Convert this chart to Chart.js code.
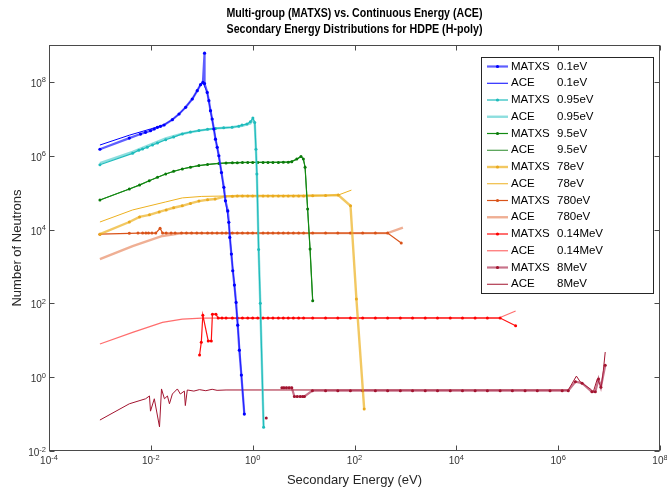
<!DOCTYPE html>
<html><head><meta charset="utf-8">
<script src="https://cdn.jsdelivr.net/npm/chart.js@4.4.1/dist/chart.umd.min.js"></script>
<style>html,body{margin:0;padding:0;background:#fff}#wrap{width:667px;height:489px}</style>
</head><body><div id="wrap"><canvas id="c" width="667" height="489"></canvas></div>
<script>
// ---------- title, tick values and labels ----------
const titleLines = ['Multi-group (MATXS) vs. Continuous Energy (ACE)', 'Secondary Energy Distributions for HDPE (H-poly)'];
const xTickValues = [1e-4, 1e-2, 1, 1e2, 1e4, 1e6, 1e8];
const xTickExponents = ['-4', '-2', '0', '2', '4', '6', '8'];
const yTickValues = [1e-2, 1, 1e2, 1e4, 1e6, 1e8];
const yTickExponents = ['-2', '0', '2', '4', '6', '8'];

// ---------- series names ----------
const seriesCodes = ['MATXS','ACE','MATXS','ACE','MATXS','ACE','MATXS','ACE','MATXS','ACE','MATXS','ACE','MATXS','ACE'];
const seriesEnergies = ['0.1eV','0.1eV','0.95eV','0.95eV','9.5eV','9.5eV','78eV','78eV','780eV','780eV','0.14MeV','0.14MeV','8MeV','8MeV'];

// ---------- data: [secondary energy (eV), number of neutrons] ----------
const matxs_0_1eV = [[1e-3,1.5e6],[3.78e-3,3.0e6],[6.28e-3,3.87e6],[7.87e-3,4.3e6],[9.85e-3,4.77e6],[0.01164,5.3e6],[0.0135,5.9e6],[0.0155,6.27e6],[0.0182,6.8e6],[0.0265,9.5e6],[0.0358,1.35e7],[0.0482,2.05e7],[0.0651,3.44e7],[0.0816,5.8e7],[0.0947,8.4e7],[0.1054,9.7e7],[0.1135,6.0e8],[0.1135,9.0e7],[0.128,5.2e7],[0.138,3.1e7],[0.1485,1.66e7],[0.160,9.9e6],[0.173,5.3e6],[0.186,2.8e6],[0.201,1.69e6],[0.217,1.0e6],[0.244,3.5e5],[0.272,1.39e5],[0.292,6.0e4],[0.325,3.2e4],[0.34,1.57e4],[0.356,6.1e3],[0.382,2.17e3],[0.407,766],[0.438,313],[0.472,106],[0.509,25.7],[0.548,5.4],[0.6,1.14],[0.686,0.1]];
const ace_0_1eV = [[1e-3,1.95e6],[3.78e-3,3.6e6],[9.85e-3,5.3e6],[0.0182,6.9e6],[0.0265,9.5e6],[0.0358,1.35e7],[0.0482,2.05e7],[0.0651,3.44e7],[0.0816,5.8e7],[0.0947,8.4e7],[0.1054,9.7e7],[0.128,5.2e7],[0.1485,1.66e7],[0.173,5.3e6],[0.201,1.69e6],[0.244,3.5e5],[0.292,6.0e4],[0.34,1.57e4],[0.382,2.17e3],[0.438,313],[0.509,25.7],[0.6,1.14],[0.686,0.1]];
const matxs_0_95eV = [[1e-3,5.7e5],[4.39e-3,1.16e6],[5.8e-3,1.4e6],[6.87e-3,1.51e6],[8.5e-3,1.7e6],[0.01077,1.95e6],[0.0135,2.2e6],[0.0196,2.7e6],[0.028,3.2e6],[0.0415,3.9e6],[0.06,4.4e6],[0.088,4.8e6],[0.13,5.2e6],[0.186,5.5e6],[0.27,5.7e6],[0.394,5.9e6],[0.533,6.3e6],[0.618,6.8e6],[0.774,7.2e6],[0.9,8.3e6],[1.01,1.05e7],[1.1,8.0e6],[1.16,1.5e6],[1.21,3.2e5],[1.31,2.9e3],[1.41,100],[1.64,0.044]];
const ace_0_95eV = [[1e-3,6.3e5],[4.39e-3,1.28e6],[0.0196,2.95e6],[0.0415,3.95e6],[0.088,4.8e6],[0.186,5.5e6],[0.394,5.9e6],[0.618,6.5e6],[0.9,7.5e6],[1.01,9.5e6],[1.1,7.5e6],[1.16,1.5e6],[1.21,3.2e5],[1.31,2.9e3],[1.41,100],[1.64,0.044]];
const matxs_9_5eV = [[1e-3,6.3e4],[3.78e-3,1.25e5],[6e-3,1.6e5],[9.3e-3,2.1e5],[0.0135,2.6e5],[0.0196,3.2e5],[0.028,3.8e5],[0.0415,4.37e5],[0.06,4.9e5],[0.088,5.4e5],[0.13,5.8e5],[0.217,6.2e5],[0.3,6.4e5],[0.4,6.5e5],[0.5,6.5e5],[0.63,6.6e5],[0.8,6.6e5],[1.0,6.6e5],[1.26,6.6e5],[1.6,6.6e5],[2.0,6.6e5],[2.5,6.6e5],[3.2,6.6e5],[4.0,6.7e5],[5.0,6.7e5],[5.86,6.9e5],[7.35,8.1e5],[8.9,9.6e5],[9.9,8.1e5],[10.7,4.9e5],[12.0,3.6e4],[13.4,2.95e3],[15.1,117]];
const ace_9_5eV = [[1e-3,6.3e4],[3.78e-3,1.25e5],[0.0196,3.2e5],[0.0415,4.4e5],[0.088,5.4e5],[0.217,6.2e5],[1.0,6.6e5],[5.0,6.7e5],[7.35,8.0e5],[8.9,9.4e5],[9.9,8.0e5],[10.7,4.9e5],[12.0,3.6e4],[13.4,2.95e3],[15.1,117]];
const matxs_78eV = [[1e-3,7.5e3],[3.78e-3,1.6e4],[6e-3,2.2e4],[9.4e-3,2.5e4],[0.0146,3.0e4],[0.02,3.4e4],[0.028,3.9e4],[0.0415,4.4e4],[0.06,5.1e4],[0.088,5.9e4],[0.13,6.4e4],[0.183,6.7e4],[0.29,7.9e4],[0.4,8.0e4],[0.5,8.1e4],[0.63,8.1e4],[0.8,8.1e4],[1.0,8.1e4],[1.26,8.1e4],[1.6,8.1e4],[2.0,8.1e4],[2.5,8.1e4],[3.2,8.1e4],[4.0,8.1e4],[5.0,8.1e4],[6.3,8.1e4],[8.0,8.1e4],[10,8.1e4],[15.1,8.2e4],[27,8.3e4],[48,8.6e4],[83.5,4.4e4],[109,131],[155,0.137]];
const ace_78eV = [[1e-3,1.6e4],[4.4e-3,3.4e4],[0.0196,5.6e4],[0.0415,7.2e4],[0.1,7.9e4],[0.29,8.1e4],[48,8.6e4],[87,1.17e5]];
const matxs_780eV = [[1e-3,7.5e3],[3.78e-3,7.9e3],[5.6e-3,8.0e3],[6.9e-3,8.0e3],[8.0e-3,8.0e3],[9.0e-3,8.0e3],[0.0105,8.0e3],[0.0125,8.0e3],[0.0152,1.08e4],[0.017,8.0e3],[0.02,8.0e3],[0.025,8.0e3],[0.03,8.0e3],[0.04,8.0e3],[0.05,8.0e3],[0.063,8.0e3],[0.08,8.0e3],[0.1,8.0e3],[0.13,8.0e3],[0.16,8.0e3],[0.2,8.0e3],[0.25,8.0e3],[0.3,8.0e3],[0.4,8e3],[0.5,8e3],[0.63,8e3],[0.8,8e3],[1,8e3],[1.26,8e3],[1.6,8e3],[2,8e3],[2.5,8e3],[3.2,8e3],[4,8e3],[5,8e3],[6.3,8e3],[8,8e3],[10,8e3],[15.1,8e3],[27,8e3],[47,8e3],[83,8e3],[145,8e3],[257,8e3],[447,8e3],[828,4.3e3]];
const ace_780eV = [[1e-3,1.58e3],[4.39e-3,3.57e3],[0.0169,6.7e3],[0.0415,8.0e3],[447,8.0e3],[893,1.12e4]];
const matxs_0_14MeV = [[0.0906,4.0],[0.098,8.9],[0.105,48],[0.134,9.6],[0.154,9.6],[0.162,51],[0.19,51],[0.21,40],[0.25,40],[0.3,40],[0.4,40],[0.5,40],[0.63,40],[0.8,40],[1,40],[1.26,40],[1.6,40],[2,40],[2.5,40],[3.2,40],[4,40],[5,40],[6.3,40],[8,40],[10,40],[15.1,40],[27,40],[47,40],[83,40],[145,40],[257,40],[447,40],[794,40],[1380,40],[2450,40],[4270,40],[7590,40],[13200,40],[23400,40],[40700,40],[72400,40],[146000,24.7]];
const ace_0_14MeV = [[1e-3,7.9],[4.39e-3,16.4],[0.0169,30.6],[0.0415,37.6],[0.1,40],[74500,42],[146000,62]];
const matxs_8MeV = [[1.85,0.078],[2.4,null],[3.74,0.52],[4.1,0.52],[4.6,0.52],[5.2,0.52],[5.86,0.52],[6.6,0.30],[7.5,0.30],[8.6,0.30],[9.6,0.30],[10.4,0.30],[14.9,0.43],[27,0.43],[47,0.43],[83,0.43],[145,0.43],[257,0.43],[447,0.43],[794,0.43],[1380,0.43],[2450,0.43],[4270,0.43],[7590,0.43],[13200,0.43],[23400,0.43],[40700,0.43],[72400,0.43],[126000,0.43],[224000,0.43],[389000,0.43],[692000,0.43],[1.2e6,0.43],[1.58e6,0.43],[2.18e6,0.75],[2.95e6,0.69],[4.6e6,0.40],[5.36e6,0.40],[6.2e6,0.89],[6.9e6,0.53],[8.4e6,2.1]];
const ace_8MeV = [[1e-3,0.069],[3.78e-3,0.19],[7.9e-3,0.26],[9.4e-3,0.31],[9.85e-3,0.12],[0.0117,0.26],[0.0148,0.045],[0.0162,0.48],[0.0185,0.26],[0.0212,0.31],[0.0232,0.19],[0.0265,0.35],[0.0332,0.48],[0.038,0.35],[0.0455,0.42],[0.0476,0.17],[0.052,0.45],[0.07,0.42],[0.09,0.46],[0.12,0.43],[0.16,0.47],[0.2,0.44],[0.3,0.45],[1.58e6,0.45],[2.28e6,1.07],[2.73e6,0.74],[4.27e6,0.48],[4.9e6,0.40],[5.86e6,0.89],[7.0e6,0.54],[7.7e6,1.48],[8.4e6,4.8]];

const seriesData = [matxs_0_1eV, ace_0_1eV, matxs_0_95eV, ace_0_95eV, matxs_9_5eV, ace_9_5eV, matxs_78eV, ace_78eV, matxs_780eV, ace_780eV, matxs_0_14MeV, ace_0_14MeV, matxs_8MeV, ace_8MeV];

// ---------- styles ----------
const styles = [
  {line:'rgba(40,40,255,0.75)', w:2.2, pt:'#0000ff', r:1.6},
  {line:'#0000ff', w:1, pt:null},
  {line:'#1fbcbc', w:1.2, pt:'#1fbcbc', r:1.5},
  {line:'rgba(80,205,205,0.65)', w:2.4, pt:null},
  {line:'#138a13', w:1.2, pt:'#0a7a0a', r:1.5},
  {line:'#2a8a2a', w:1, pt:null},
  {line:'rgba(237,177,32,0.7)', w:2.4, pt:'#e9a91e', r:1.5},
  {line:'#edb120', w:1, pt:null},
  {line:'#d95319', w:1.2, pt:'#d95319', r:1.5},
  {line:'rgba(226,110,60,0.55)', w:2.4, pt:null},
  {line:'#ff1010', w:1.2, pt:'#ff0000', r:1.5},
  {line:'rgba(255,60,60,0.75)', w:1.2, pt:null},
  {line:'rgba(170,40,75,0.65)', w:2.2, pt:'#a2142f', r:1.5},
  {line:'#a2142f', w:1, pt:null}
];

const FONT = "'Liberation Sans', Arial, Helvetica, sans-serif";
const AXC = '#262626';
const FRAME = '#4a4a4a';

const datasets = seriesData.map((pts, i) => ({
  label: seriesCodes[i] + ' ' + seriesEnergies[i],
  data: pts.map(p => ({x: p[0], y: p[1]})),
  borderColor: styles[i].line,
  borderWidth: styles[i].w,
  backgroundColor: styles[i].pt || styles[i].line,
  pointRadius: styles[i].pt ? styles[i].r : 0,
  pointBorderWidth: 0,
  pointBackgroundColor: styles[i].pt || styles[i].line,
  pointHoverRadius: 0,
  tension: 0,
  spanGaps: false,
  order: i
}));

function drawPow(ctx, exp, x, y, align) {
  // "10" with raised exponent; x is anchor (center or right), y is baseline of "10"
  ctx.font = '10px ' + FONT;
  const wb = ctx.measureText('10').width;
  ctx.font = '7.5px ' + FONT;
  const we = ctx.measureText(exp).width;
  const total = wb + we;
  const x0 = align === 'center' ? x - total / 2 : x - total;
  ctx.textAlign = 'left';
  ctx.textBaseline = 'alphabetic';
  ctx.font = '10px ' + FONT;
  ctx.fillText('10', x0, y);
  ctx.font = '7.5px ' + FONT;
  ctx.fillText(exp, x0 + wb, y - 4.5);
}

const framePlugin = {
  id: 'framePlugin',
  afterDatasetsDraw(chart) {
    const {ctx, chartArea: a, scales} = chart;
    const xs = scales.x, ys = scales.y;
    ctx.save();
    ctx.strokeStyle = FRAME;
    ctx.lineWidth = 1;
    const L = Math.round(a.left) + 0.5, T = Math.round(a.top) + 0.5, R = Math.round(a.right) - 0.5, B = Math.round(a.bottom) - 0.5;
    ctx.strokeRect(L, T, R - L, B - T);
    const tl = 5;
    ctx.beginPath();
    xTickValues.forEach(v => {
      const px = Math.round(xs.getPixelForValue(v)) + 0.5;
      ctx.moveTo(px, B); ctx.lineTo(px, B - tl);
      ctx.moveTo(px, T); ctx.lineTo(px, T + tl);
    });
    yTickValues.forEach(v => {
      const py = Math.round(ys.getPixelForValue(v)) + 0.5;
      ctx.moveTo(L, py); ctx.lineTo(L + tl, py);
      ctx.moveTo(R, py); ctx.lineTo(R - tl, py);
    });
    ctx.stroke();
    // tick labels
    ctx.fillStyle = '#333';
    xTickValues.forEach((v, i) => drawPow(ctx, xTickExponents[i], xs.getPixelForValue(v), a.bottom + 13, 'center'));
    yTickValues.forEach((v, i) => drawPow(ctx, yTickExponents[i], a.left - 3, ys.getPixelForValue(v) + 5, 'right'));
    // title centred over the axes
    ctx.fillStyle = '#000';
    ctx.textAlign = 'center';
    ctx.textBaseline = 'middle';
    ctx.font = 'bold 13px ' + FONT;
    const cx = (a.left + a.right) / 2;
    const target = 256;
    titleLines.forEach((t, k) => {
      const w = ctx.measureText(t).width;
      const sx = w > target ? target / w : 1;
      ctx.save();
      ctx.translate(cx, 13 + k * 16);
      ctx.scale(sx, 1);
      ctx.fillText(t, 0, 0);
      ctx.restore();
    });
    ctx.restore();
  },
  afterDraw(chart) {
    const {ctx, chartArea: a} = chart;
    const bx = Math.round(a.right) - 179, by = Math.round(a.top) + 12, bw = 172, bh = 236;
    ctx.save();
    ctx.fillStyle = '#fff';
    ctx.fillRect(bx, by, bw, bh);
    ctx.strokeStyle = AXC;
    ctx.lineWidth = 1;
    ctx.strokeRect(bx + 0.5, by + 0.5, bw, bh);
    const rowH = 16.75;
    ctx.font = '11.5px ' + FONT;
    ctx.textBaseline = 'middle';
    ctx.textAlign = 'left';
    chart.data.datasets.forEach((ds, i) => {
      const cy = by + 9.5 + i * rowH;
      const st = styles[i];
      ctx.strokeStyle = st.line;
      ctx.lineWidth = st.w;
      ctx.beginPath();
      ctx.moveTo(bx + 6, cy); ctx.lineTo(bx + 27, cy);
      ctx.stroke();
      if (st.pt) {
        ctx.fillStyle = st.pt;
        ctx.beginPath(); ctx.arc(bx + 16.5, cy, 1.6, 0, Math.PI * 2); ctx.fill();
      }
      ctx.fillStyle = '#000';
      ctx.fillText(seriesCodes[i], bx + 30, cy);
      ctx.fillText(seriesEnergies[i], bx + 76, cy);
    });
    ctx.restore();
  }
};

new Chart(document.getElementById('c'), {
  type: 'line',
  data: { datasets },
  options: {
    responsive: false,
    animation: false,
    devicePixelRatio: 1,
    layout: { padding: { left: 0, right: 7, top: 45, bottom: 0 } },
    plugins: {
      legend: { display: false },
      tooltip: { enabled: false },
      title: { display: false }
    },
    scales: {
      x: {
        type: 'logarithmic',
        min: 1e-4, max: 1e8,
        grid: { display: false, drawTicks: false },
        border: { display: false },
        afterBuildTicks: s => { s.ticks = xTickValues.map(v => ({ value: v })); },
        afterFit: s => { s.height = 38; },
        ticks: { display: false },
        title: { display: true, text: 'Secondary Energy (eV)', color: AXC, font: { family: FONT, size: 13 }, padding: { top: 0, bottom: 1 } }
      },
      y: {
        type: 'logarithmic',
        min: 1e-2, max: 1e9,
        grid: { display: false, drawTicks: false },
        border: { display: false },
        afterBuildTicks: s => { s.ticks = yTickValues.map(v => ({ value: v })); },
        afterFit: s => { s.width = 49; },
        ticks: { display: false },
        title: { display: true, text: 'Number of Neutrons', color: AXC, font: { family: FONT, size: 13 }, padding: { top: 10, bottom: 0 } }
      }
    }
  },
  plugins: [framePlugin]
});
</script></body></html>
